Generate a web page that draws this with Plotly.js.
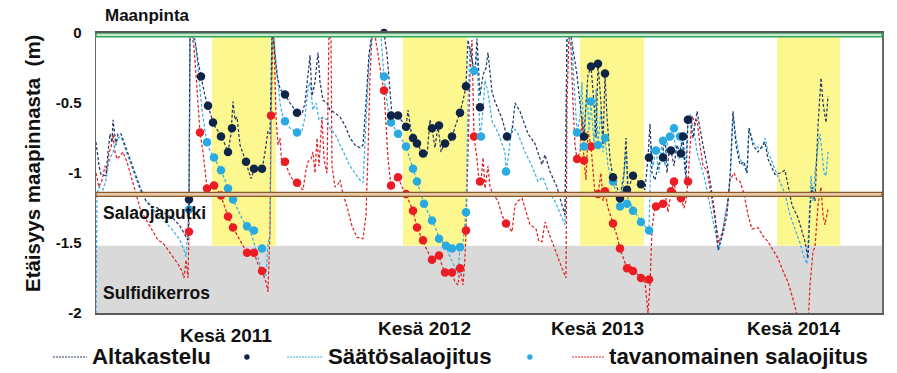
<!DOCTYPE html>
<html><head><meta charset="utf-8">
<script src="https://cdn.plot.ly/plotly-3.0.1.min.js"></script>
<style>html,body{margin:0;padding:0;background:#fff;} #chart{width:897px;height:373px;}</style>
</head><body><div id="chart"></div>
<script>
// x values: days since start of record; y values: groundwater depth below surface (m)
const altaLineDays = [0,6,10,20,24,28,32,34,40,44,50,58,68,78,88,100,112,124,134,144,156,168,178,184,186,188,
 192,198,204,210,218,224,230,236,244,250,256,264,270,274,278,282,288,296,304,310,316,324,332,338,344,348,352,
 354,358,362,368,378,388,402,412,418,424,428,432,438,444,448,454,462,468,478,488,498,508,518,528,534,540,546,552,568,576,582,588,592,604,612,620,624,630,636,644,654,662,668,672,678,684,690,696,704,712,720,728,736,740,744,752,
 758,762,768,774,780,784,792,798,812,822,832,838,848,864,878,892,898,908,922,932,938,942,
 944,950,956,962,968,976,980,984,990,996,1000,1004,1010,1014,1018,1022,1028,1034,1042,1048,1056,1060,1064,1070,1074,1082,1090,1098,1104,1108,1112,1118,1124,1132,1138,1142,1146,1150,1156,1162,1168,1174,1180,1184,1188,1194,
 1202,1214,1228,1238,1244,1254,1262,1268,1274,1280,1288,1296,1302,1306,1314,1324,1338,1344,1358,1368,1378,1392,1404,1418,1424,1428,1432,1438,1444,1450,1454,1460,1464];
const altaLineDepth = [-0.78,-0.95,-1.01,-1.02,-0.85,-0.72,-0.78,-0.62,-0.8,-0.72,-0.72,-0.8,-0.9,-1.0,-1.1,-1.2,-1.24,-1.25,-1.28,-1.3,-1.33,-1.38,-1.44,-1.48,-1.19,0.0,
 -0.02,-0.05,-0.2,-0.31,-0.45,-0.52,-0.6,-0.66,-0.7,-0.74,-0.78,-0.85,-0.72,-0.49,-0.62,-0.6,-0.8,-0.88,-0.98,-1.04,-0.98,-0.98,-0.98,-0.85,-0.7,-0.72,0.0,
 -0.02,-0.18,-0.3,-0.4,-0.44,-0.5,-0.57,-0.58,-0.5,-0.3,-0.16,-0.45,-0.35,-0.14,-0.35,-0.48,-0.5,-0.55,-0.57,-0.6,-0.66,-0.75,-0.8,-0.82,-0.8,-0.5,-0.15,0.0,0.0,0.0,-0.15,-0.45,-0.59,-0.59,-0.63,-0.67,-0.55,-0.7,-0.76,-0.8,-0.87,-0.88,-0.62,-0.68,-0.82,-0.66,-0.85,-0.79,-0.8,-0.74,-0.65,-0.57,-0.45,-0.38,-0.05,-0.2,
 -0.3,-0.04,-0.45,-0.3,-0.25,-0.14,-0.42,-0.49,-0.61,-0.74,-0.71,-0.5,-0.56,-0.72,-0.79,-0.94,-0.87,-0.99,-1.1,-1.23,-1.3,0.0,
 0.0,-0.02,-0.15,-0.3,-0.5,-0.74,-0.5,-0.3,-0.24,-0.5,-0.75,-0.22,-0.5,-0.8,-0.29,-0.6,-0.9,-1.03,-1.1,-1.18,-1.0,-0.75,-1.12,-1.05,-1.02,-1.05,-1.08,-1.12,-0.89,-0.65,-1.0,-1.05,-0.95,-0.89,-0.75,-1.0,-0.85,-0.84,-0.95,-0.8,-0.86,-0.74,-1.05,-0.62,-0.6,-0.75,
 -0.56,-0.8,-1.05,-1.3,-1.55,-1.43,-1.3,-1.03,-0.56,-0.8,-0.94,-0.92,-1.0,-0.68,-0.8,-0.85,-0.78,-0.9,-1.01,-1.0,-0.98,-1.23,-1.32,-1.49,-1.61,-1.25,-1.1,-1.2,-0.66,-0.32,-0.5,-0.64,-0.45];

const saatoLineDays = [0,2,6,14,20,24,28,34,38,44,50,58,68,78,88,100,112,124,134,144,156,168,176,180,184,186,188,
 192,200,206,212,218,222,228,236,244,250,258,264,274,284,294,302,312,320,328,334,340,344,348,352,
 356,362,368,374,380,388,402,412,418,424,428,434,440,446,454,462,468,478,488,498,508,518,528,534,540,546,552,564,570,
 576,582,590,604,612,620,628,634,642,650,656,664,672,680,686,694,700,708,718,724,728,734,740,744,748,756,762,
 768,772,778,784,792,804,818,820,824,832,844,858,872,884,894,904,918,932,938,942,
 944,952,958,962,968,972,976,982,986,990,996,1000,1004,1010,1014,1018,1024,1028,1034,1042,1048,1054,1060,1064,1070,1074,1082,1090,1098,1106,1110,1114,1120,1126,1132,1138,1142,1148,1154,1160,1166,1172,1178,1184,1188,1196,1202,1210,1218,1226,1234,1240,1246,1252,1258,1264,1270,1274,1280,1288,1296,1302,1306,1314,1324,1332,1338,1344,1352,1360,1368,1378,1388,1398,1408,1416,1422,1426,1430,1434,1438,1444,1448,1452,1456,1460,1464];
const saatoLineDepth = [-2.0,-1.15,-1.1,-1.12,-1.05,-0.95,-0.9,-0.85,-0.8,-0.75,-0.74,-0.82,-0.92,-1.02,-1.12,-1.2,-1.25,-1.3,-1.33,-1.37,-1.42,-1.48,-1.55,-1.6,-1.35,-1.27,-0.02,
 -0.02,-0.1,-0.35,-0.55,-0.7,-0.78,-0.84,-0.89,-0.94,-0.98,-1.05,-1.11,-1.19,-1.27,-1.34,-1.38,-1.45,-1.55,-1.65,-1.73,-1.73,-1.5,-1.45,-0.02,
 -0.05,-0.25,-0.5,-0.6,-0.64,-0.68,-0.71,-0.7,-0.6,-0.4,-0.35,-0.55,-0.5,-0.62,-0.6,-0.62,-0.68,-0.72,-0.8,-0.88,-0.95,-1.0,-1.05,-1.07,-0.6,-0.2,-0.02,-0.02,-0.02,
 -0.31,-0.5,-0.64,-0.72,-0.76,-0.81,-0.9,-0.97,-1.06,-1.15,-1.22,-1.28,-1.34,-1.4,-1.47,-1.5,-1.52,-1.6,-1.68,-1.72,-1.53,-1.5,-1.28,-0.5,-0.1,-0.27,-0.15,
 -0.74,-0.63,-0.34,-0.42,-0.63,-0.71,-0.85,-0.99,-0.9,-0.66,-0.72,-0.85,-0.95,-1.06,-1.03,-1.13,-1.2,-1.32,-1.37,-0.02,
 -0.02,-0.1,-0.5,-0.71,-0.6,-0.35,-0.81,-0.4,-0.7,-0.49,-0.8,-0.4,-0.8,-0.55,-0.85,-0.75,-0.95,-1.0,-1.07,-1.15,-1.24,-1.1,-0.85,-1.2,-1.22,-1.27,-1.3,-1.35,-1.38,-1.41,-0.8,-0.95,-0.84,-1.0,-0.77,-0.95,-0.8,-0.74,-0.68,-0.85,-0.9,-0.75,-1.0,-0.62,-0.58,-0.7,-0.85,-0.95,-1.05,-1.2,-1.35,-1.45,-1.55,-1.45,-1.3,-1.2,-0.95,-0.57,-0.75,-0.9,-0.95,-1.0,-0.68,-0.78,-0.82,-0.82,-0.75,-0.85,-0.92,-0.98,-1.05,-1.15,-1.3,-1.4,-1.5,-1.6,-1.65,-1.35,-1.02,-1.2,-1.0,-0.8,-0.72,-0.85,-1.0,-1.02,-0.85];

const tavaLineDays = [0,6,12,18,22,26,30,34,38,42,48,54,62,70,78,88,98,108,118,124,134,144,154,164,172,176,180,184,186,188,
 192,196,202,208,214,218,222,228,236,244,250,258,264,274,284,294,302,308,316,324,332,340,344,348,350,354,
 356,360,364,368,372,378,386,394,402,408,414,420,424,430,434,438,442,446,452,456,462,466,470,472,478,484,488,494,502,512,522,534,540,544,548,552,558,564,570,
 576,580,584,590,596,604,612,620,628,634,642,648,654,662,672,678,686,692,698,706,712,718,724,728,734,738,740,744,748,752,
 756,762,766,770,774,778,784,788,794,804,812,820,828,832,838,844,852,860,868,880,886,892,898,908,922,932,940,942,
 946,950,954,958,962,968,972,976,980,984,990,994,998,1004,1010,1014,1018,1024,1028,1034,1042,1048,1054,1062,1068,1074,1082,1090,1098,1104,1108,1112,1116,1120,1128,1134,1140,1144,1150,1156,1160,1166,1170,1176,1180,1184,1188,1192,1198,1202,1208,1214,1222,1232,1238,1246,1254,1262,1268,1276,1282,1288,1296,1304,1312,1324,1334,1344,1354,1364,1374,1384,1394,1402,1408,
 1424,1428,1434,1438,1444,1450,1454,1458,1464];
const tavaLineDepth = [-1.0,-1.1,-1.05,-0.95,-1.0,-0.85,-0.82,-0.72,-0.85,-0.9,-0.88,-0.85,-0.92,-1.02,-1.12,-1.25,-1.32,-1.38,-1.45,-1.48,-1.5,-1.55,-1.6,-1.65,-1.7,-1.75,-1.62,-1.75,-1.42,0.0,
 -0.02,-0.1,-0.4,-0.71,-0.85,-1.0,-1.11,-1.12,-1.09,-1.13,-1.16,-1.25,-1.31,-1.39,-1.46,-1.52,-1.57,-1.57,-1.57,-1.65,-1.7,-1.78,-1.85,-1.4,-0.59,-0.02,
 -0.05,-0.6,-0.8,-0.75,-0.95,-0.92,-1.0,-1.05,-1.07,-1.1,-1.12,-0.98,-0.92,-0.9,-0.85,-1.0,-0.75,-0.95,-0.6,-0.9,-1.0,0.0,-0.05,-0.95,-1.1,-1.08,-1.05,-1.15,-1.24,-1.38,-1.46,-1.47,-1.3,-0.86,-0.3,-0.02,-0.02,-0.15,-0.3,
 -0.41,-0.7,-0.9,-1.09,-1.05,-1.03,-1.1,-1.15,-1.22,-1.27,-1.39,-1.44,-1.48,-1.55,-1.62,-1.6,-1.59,-1.66,-1.71,-1.72,-1.71,-1.78,-1.8,-1.68,-1.8,-1.6,-1.41,-0.8,-0.3,-0.05,
 -0.74,-0.9,-1.05,-1.06,-0.89,-1.11,-0.95,-1.1,-1.15,-1.2,-1.3,-1.36,-1.4,-1.42,-1.23,-1.2,-1.18,-1.28,-1.37,-1.4,-1.49,-1.49,-1.35,-1.45,-1.59,-1.68,-1.75,-0.5,
 -0.02,-0.1,-0.5,-0.8,-0.9,-0.85,-0.6,-0.91,-1.05,-0.7,-0.81,-1.0,-1.15,-1.15,-1.0,-1.2,-1.13,-1.25,-1.3,-1.36,-1.45,-1.54,-1.6,-1.68,-1.65,-1.7,-1.72,-1.75,-1.78,-2.0,-1.8,-1.4,-1.28,-1.24,-1.25,-1.22,-1.18,-1.28,-1.14,-1.06,-1.15,-1.2,-1.18,-1.25,-1.2,-1.06,-0.8,-0.59,-0.65,-0.62,-0.8,-0.95,-0.98,-1.2,-1.35,-1.5,-1.4,-1.24,-1.05,-1.0,-1.05,-1.06,-1.15,-1.3,-1.4,-1.39,-1.45,-1.49,-1.55,-1.61,-1.7,-1.78,-1.9,-2.0,-2.1,
 -2.1,-1.8,-1.56,-1.53,-1.23,-1.1,-1.3,-1.37,-1.26];

// measured points (dots)
const altaDotDays = [186,210,224,234,250,264,272,300,316,332,378,402,576,590,604,620,634,642,654,672,686,698,712,728,740,768,822,976,990,1004,1018,1034,1048,1062,1074,1090,1106,1134,1150,1170,1174,1184];
const altaDotDepth = [-1.19,-0.31,-0.52,-0.64,-0.74,-0.85,-0.68,-0.92,-0.97,-0.97,-0.44,-0.57,0.0,-0.59,-0.59,-0.67,-0.75,-0.79,-0.86,-0.68,-0.66,-0.79,-0.74,-0.57,-0.38,-0.53,-0.74,-0.74,-0.24,-0.22,-0.29,-1.03,-1.18,-1.12,-1.02,-1.08,-0.89,-0.89,-0.84,-0.86,-0.74,-0.62];
const saatoDotDays = [186,222,236,250,264,274,302,316,332,378,402,576,590,604,620,634,642,656,672,686,700,712,728,740,756,770,820,962,976,990,1004,1018,1034,1048,1062,1074,1090,1106,1120,1134,1148,1156,1168,1184];
const saatoDotDepth = [-1.26,-0.78,-0.89,-0.98,-1.11,-1.19,-1.38,-1.41,-1.54,-0.63,-0.71,-0.31,-0.64,-0.72,-0.81,-0.97,-1.06,-1.22,-1.34,-1.47,-1.52,-1.54,-1.53,-1.28,-0.27,-0.74,-0.99,-0.71,-0.81,-0.49,-0.8,-0.75,-1.06,-1.24,-1.22,-1.27,-1.35,-1.41,-0.84,-0.77,-0.74,-0.68,-0.74,-0.62];
const tavaDotDays = [186,208,222,236,250,264,274,302,316,332,350,378,402,576,590,604,620,634,642,654,672,686,698,712,728,740,756,768,820,962,976,990,1004,1018,1034,1048,1062,1074,1090,1106,1120,1134,1150,1156,1170,1184];
const tavaDotDepth = [-1.42,-0.71,-1.11,-1.09,-1.16,-1.31,-1.39,-1.57,-1.57,-1.7,-0.59,-0.92,-1.07,-0.41,-1.09,-1.03,-1.15,-1.27,-1.39,-1.48,-1.62,-1.59,-1.71,-1.71,-1.68,-1.41,-0.74,-1.06,-1.36,-0.9,-0.91,-0.81,-1.15,-1.13,-1.36,-1.54,-1.68,-1.7,-1.75,-1.76,-1.24,-1.22,-1.13,-1.06,-1.18,-1.06];

// summer periods (start, end day) and their labels
const summerStart = [232, 614, 968, 1362];
const summerEnd = [360, 742, 1096, 1488];
const summerLabels = ['Kesä 2011', 'Kesä 2012', 'Kesä 2013', 'Kesä 2014'];
const summerLabelDay = [260, 656, 1002, 1394];

// reference levels (m)
const groundLevel = 0;
const drainLevel = -1.153;
const sulfideTop = -1.52;

const seriesNames = ['Altakastelu', 'Säätösalaojitus', 'tavanomainen salaojitus'];
const yTicks = [0, -0.5, -1, -1.5, -2];
const yTickText = ['0', '-0.5', '-1', '-1.5', '-2'];

const FONT = 'Liberation Sans, Arial, sans-serif';
const NAVY_L = '#273a68', NAVY_D = '#0f2548';
const BLUE_L = '#38b0e3', BLUE_D = '#29aae1';
const RED_L = '#de2429', RED_D = '#ec1c24';

function lineTrace(x, y, color) {
  return {x, y, type: 'scatter', mode: 'lines', line: {color, width: 1.25, dash: '3px,2px'}, hoverinfo: 'skip', showlegend: false};
}
function dotTrace(x, y, color) {
  return {x, y, type: 'scatter', mode: 'markers', marker: {color, size: 8.5}, showlegend: false, cliponaxis: false};
}

const data = [
  lineTrace(tavaLineDays, tavaLineDepth, RED_L),
  lineTrace(saatoLineDays, saatoLineDepth, BLUE_L),
  lineTrace(altaLineDays, altaLineDepth, NAVY_L),
  dotTrace(tavaDotDays, tavaDotDepth, RED_D),
  dotTrace(saatoDotDays, saatoDotDepth, BLUE_D),
  dotTrace(altaDotDays, altaDotDepth, NAVY_D)
];

const shapes = [];
shapes.push({type: 'rect', xref: 'paper', yref: 'y', x0: 0, x1: 1, y0: -2, y1: sulfideTop, fillcolor: '#d9d9d9', line: {width: 0}, layer: 'below'});
for (let i = 0; i < summerStart.length; i++) {
  shapes.push({type: 'rect', xref: 'x', yref: 'y', x0: summerStart[i], x1: summerEnd[i], y0: sulfideTop, y1: groundLevel - 0.03, fillcolor: '#fcf88f', line: {width: 0}, layer: 'below'});
}
shapes.push({type: 'rect', xref: 'paper', yref: 'y', x0: 0, x1: 1, y0: drainLevel - 0.014, y1: drainLevel + 0.014, fillcolor: '#e6c9a6', line: {color: '#8b5a2b', width: 1.3}, layer: 'above'});
shapes.push({type: 'rect', xref: 'paper', yref: 'y', x0: 0, x1: 1, y0: groundLevel - 0.026, y1: groundLevel, fillcolor: '#c9ead2', line: {color: '#35a55a', width: 1.5}, layer: 'above'});

const legY = -0.157;
const legItems = [
  {x0: -0.0547, x1: -0.0115, tx: -0.0076, dot: 0.192, lc: NAVY_L, dc: NAVY_D},
  {x0: 0.243, x1: 0.289, tx: 0.2926, dot: 0.552, lc: BLUE_L, dc: BLUE_D},
  {x0: 0.6056, x1: 0.6463, tx: 0.650, dot: null, lc: RED_L, dc: RED_D}
];
const annotations = [];
legItems.forEach((it, i) => {
  shapes.push({type: 'line', xref: 'paper', yref: 'paper', x0: it.x0, x1: it.x1, y0: legY, y1: legY, line: {color: it.lc, width: 1.1, dash: '2px,1px'}});
  annotations.push({xref: 'paper', yref: 'paper', x: it.tx, y: legY, xanchor: 'left', yanchor: 'middle', showarrow: false,
    text: '<b>' + seriesNames[i] + '</b>', font: {family: FONT, size: 22.3, color: '#111'}});
  if (it.dot !== null) {
    shapes.push({type: 'circle', xref: 'paper', yref: 'paper', xsizemode: 'pixel', ysizemode: 'pixel', xanchor: it.dot, yanchor: legY,
      x0: -2.7, x1: 2.7, y0: -2.7, y1: 2.7, fillcolor: it.dc, line: {width: 0}});
  }
});

summerLabels.forEach((t, i) => {
  annotations.push({xref: 'x', yref: 'paper', x: summerLabelDay[i], y: i === 0 ? -0.082 : -0.057, xanchor: 'center', yanchor: 'middle',
    showarrow: false, text: '<b>' + t + '</b>', font: {family: FONT, size: 19, color: '#111'}});
});
annotations.push({xref: 'paper', yref: 'paper', x: 0.066, y: 1.064, xanchor: 'center', yanchor: 'middle', showarrow: false,
  text: '<b>Maanpinta</b>', font: {family: FONT, size: 17, color: '#111'}});
annotations.push({xref: 'paper', yref: 'paper', x: 0.0064, y: 0.357, xanchor: 'left', yanchor: 'middle', showarrow: false,
  text: '<b>Salaojaputki</b>', font: {family: FONT, size: 17.5, color: '#111'}});
annotations.push({xref: 'paper', yref: 'paper', x: 0.0064, y: 0.071, xanchor: 'left', yanchor: 'middle', showarrow: false,
  text: '<b>Sulfidikerros</b>', font: {family: FONT, size: 17.5, color: '#111'}});
annotations.push({xref: 'paper', yref: 'paper', x: -0.080, y: 0.536, xanchor: 'center', yanchor: 'middle', showarrow: false, textangle: -90,
  text: '<b>Etäisyys maapinnasta  (m)</b>', font: {family: FONT, size: 20.5, color: '#111'}});

const layout = {
  width: 897, height: 373,
  margin: {l: 96, r: 15, t: 33, b: 60},
  paper_bgcolor: '#ffffff', plot_bgcolor: '#ffffff',
  showlegend: false,
  xaxis: {range: [0, 1572], showticklabels: false, ticks: '', showgrid: false, zeroline: false,
    showline: true, mirror: true, linecolor: '#595959', linewidth: 2},
  yaxis: {range: [-2, 0], tickvals: yTicks, ticktext: yTickText, ticks: '', showgrid: false, zeroline: false,
    showline: true, mirror: true, linecolor: '#6a6a6a', linewidth: 1.5, ticklabelstandoff: 10,
    tickfont: {family: FONT, size: 15, color: '#111', weight: 'bold'}},
  shapes, annotations
};

Plotly.newPlot('chart', data, layout, {displayModeBar: false, staticPlot: true});
</script>
</body></html>
